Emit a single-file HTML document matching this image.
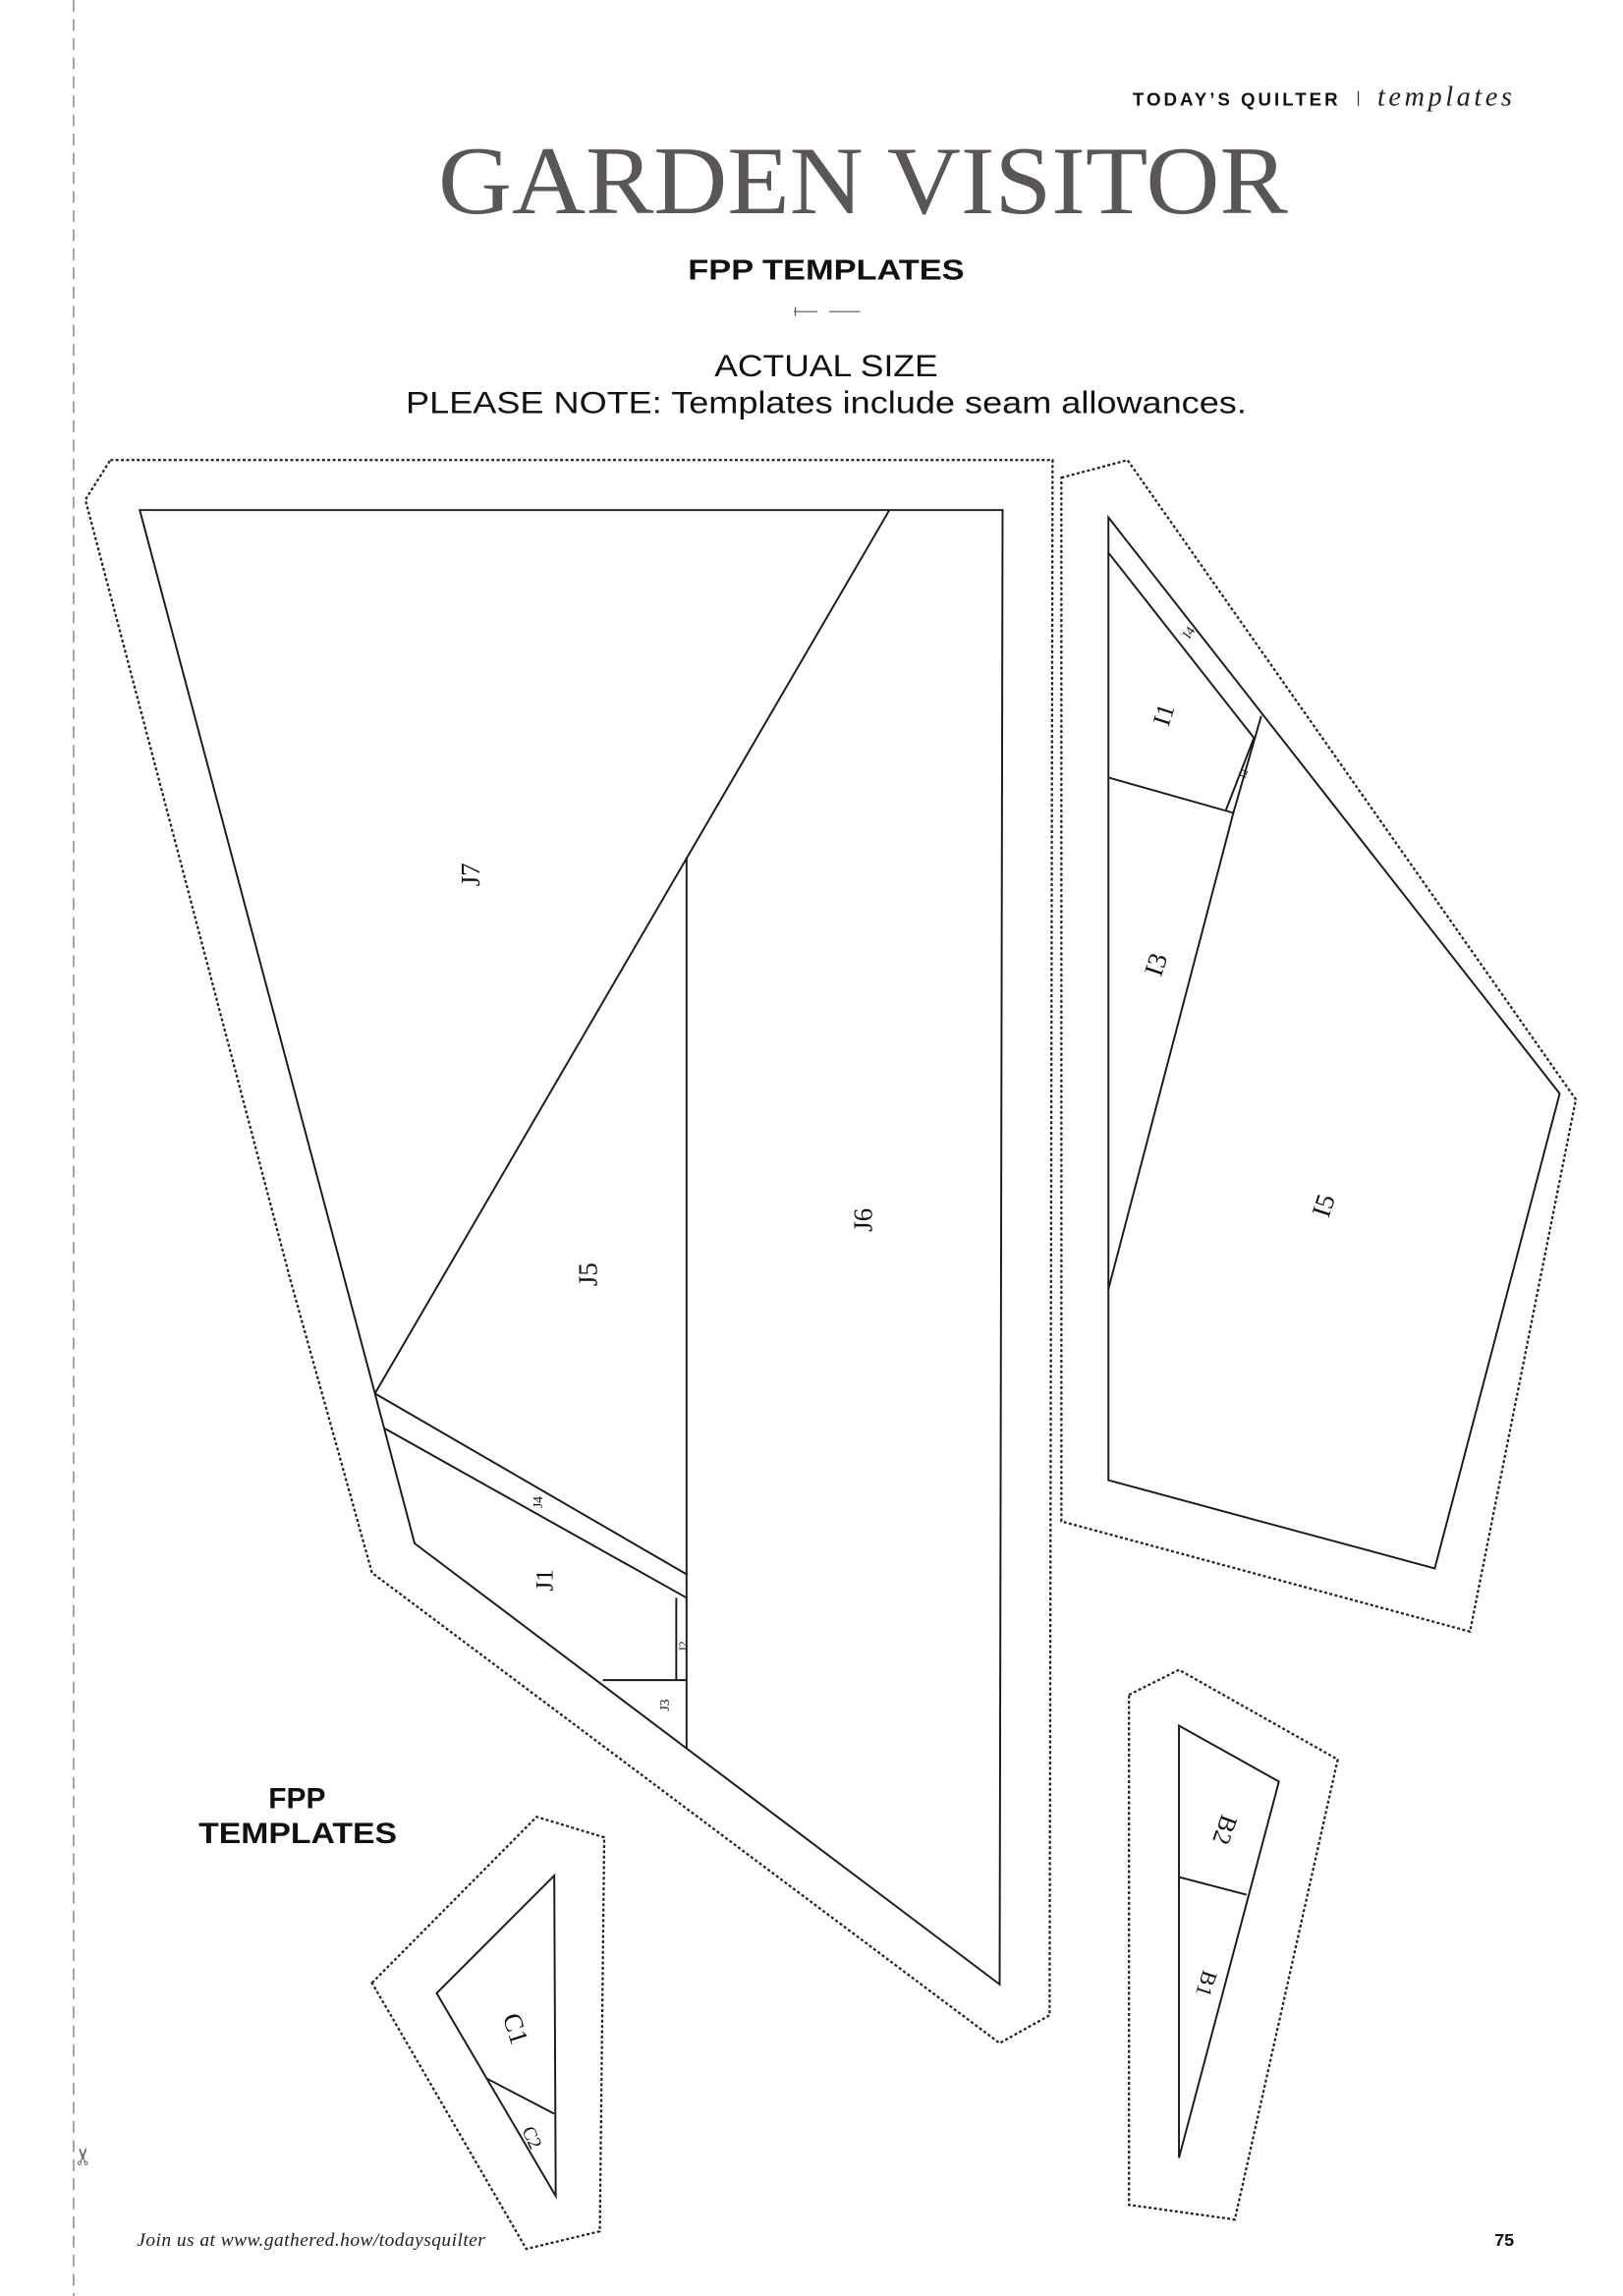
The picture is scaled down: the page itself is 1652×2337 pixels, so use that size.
<!DOCTYPE html>
<html><head><meta charset="utf-8"><style>
html,body{margin:0;padding:0;background:#fff;}
svg{display:block;}
</style></head><body>
<svg width="1652" height="2337" viewBox="0 0 1104 1562" xmlns="http://www.w3.org/2000/svg">
<rect width="1104" height="1562" fill="#fff"/>
<line x1="50" y1="0" x2="50" y2="1562" stroke="#888" stroke-width="1" stroke-dasharray="8 5"/>
<text x="57" y="1472" font-size="16" fill="#666" font-family="DejaVu Sans, sans-serif" text-anchor="middle" transform="rotate(-90 57 1467)">✂</text>

<text x="912" y="72" text-anchor="end" font-family="Liberation Sans, sans-serif" font-weight="bold" font-size="12.5" letter-spacing="2" fill="#111">TODAY’S QUILTER</text>
<line x1="924" y1="62" x2="924" y2="72" stroke="#333" stroke-width="0.8"/>
<text x="937" y="72" font-family="Liberation Serif, serif" font-style="italic" font-size="19" letter-spacing="1.5" fill="#222" textLength="93">templates</text>
<text x="298" y="145" font-family="Liberation Serif, serif" font-size="66" fill="#5a5556" textLength="578" lengthAdjust="spacingAndGlyphs">GARDEN VISITOR</text>
<text x="468" y="190" font-family="Liberation Sans, sans-serif" font-weight="bold" font-size="19" fill="#111" textLength="188" lengthAdjust="spacingAndGlyphs">FPP TEMPLATES</text>
<line x1="540" y1="212" x2="556" y2="212" stroke="#555" stroke-width="0.8"/>
<line x1="564" y1="212" x2="585" y2="212" stroke="#555" stroke-width="0.8"/>
<line x1="541" y1="209" x2="541" y2="215" stroke="#555" stroke-width="0.8"/>
<text x="562" y="256" text-anchor="middle" font-family="Liberation Sans, sans-serif" font-size="21" fill="#111" textLength="152" lengthAdjust="spacingAndGlyphs">ACTUAL SIZE</text>
<text x="276" y="281" font-family="Liberation Sans, sans-serif" font-size="21" fill="#111" textLength="572" lengthAdjust="spacingAndGlyphs">PLEASE NOTE: Templates include seam allowances.</text>

<text x="202" y="1230" text-anchor="middle" font-family="Liberation Sans, sans-serif" font-weight="bold" font-size="20" fill="#111">FPP</text>
<text x="135" y="1254" font-family="Liberation Sans, sans-serif" font-weight="bold" font-size="20" fill="#111" textLength="135" lengthAdjust="spacingAndGlyphs">TEMPLATES</text>

<text x="93" y="1528" font-family="Liberation Serif, serif" font-style="italic" font-size="13" fill="#222" textLength="237">Join us at www.gathered.how/todaysquilter</text>
<text x="1030" y="1528" text-anchor="end" font-family="Liberation Sans, sans-serif" font-weight="bold" font-size="12" fill="#111">75</text>

<g fill="none" stroke="#222" stroke-width="1.5" stroke-dasharray="2 1.6">
  <polygon points="75,313 716,313 714,1371 680,1390 253,1070 197,869 58,340"/>
  <polygon points="722,325 767,313 1072,748 1000,1110 722,1035"/>
  <polygon points="768,1153 802,1136 910,1197 840,1510 768,1500"/>
  <polygon points="253,1349 365,1236 411,1250 408,1518 358,1530"/>
</g>

<g fill="none" stroke="#1a1a1a" stroke-width="1.3" stroke-linejoin="miter">
  <polygon points="95,347 682,347 680,1350 282,1050 255,948"/>
  <line x1="605" y1="347" x2="255" y2="948"/>
  <line x1="467" y1="583" x2="467" y2="1190"/>
  <line x1="255" y1="948" x2="467" y2="1071"/>
  <line x1="262" y1="972" x2="467" y2="1087"/>
  <line x1="460" y1="1087" x2="460" y2="1143"/>
  <line x1="410" y1="1143" x2="467" y2="1143"/>
  <polygon points="754,352 1061,744 976,1067 754,1007"/>
  <line x1="754" y1="376" x2="853" y2="502"/>
  <line x1="858" y1="487" x2="839" y2="553"/>
  <line x1="839" y1="553" x2="754" y2="877"/>
  <line x1="853" y1="502" x2="834" y2="551"/>
  <line x1="754" y1="529" x2="839" y2="553"/>
  <polygon points="802,1174 870,1212 802,1468"/>
  <line x1="802" y1="1277" x2="848" y2="1289"/>
  <polygon points="377,1276 297,1356 378,1494"/>
  <line x1="331" y1="1414" x2="377" y2="1438"/>
</g>

<g font-family="Liberation Serif, serif" fill="#111" text-anchor="middle">
  <text x="0" y="0" font-size="18" transform="translate(326,595) rotate(-90)">J7</text>
  <text x="0" y="0" font-size="18" transform="translate(406,867) rotate(-90)">J5</text>
  <text x="0" y="0" font-size="18" transform="translate(593,830) rotate(-90)">J6</text>
  <text x="0" y="0" font-size="9" transform="translate(369,1022) rotate(-90)">J4</text>
  <text x="0" y="0" font-size="17" transform="translate(376,1075) rotate(-90)">J1</text>
  <text x="0" y="0" font-size="8" transform="translate(467,1120) rotate(-90)">J2</text>
  <text x="0" y="0" font-size="9" transform="translate(455,1160) rotate(-90)">J3</text>
  <text x="0" y="0" font-size="9" transform="translate(811,432) rotate(-55)">I4</text>
  <text x="0" y="0" font-size="17" transform="translate(797,488) rotate(-72)">I1</text>
  <text x="0" y="0" font-size="7" transform="translate(848,527) rotate(-72)">I2</text>
  <text x="0" y="0" font-size="18" transform="translate(792,658) rotate(-72)">I3</text>
  <text x="0" y="0" font-size="18" transform="translate(906,822) rotate(-72)">I5</text>
  <text x="0" y="0" font-size="17" transform="translate(828,1243) rotate(110)">B2</text>
  <text x="0" y="0" font-size="15" transform="translate(816,1348) rotate(108)">B1</text>
  <text x="0" y="0" font-size="18" transform="translate(345,1382) rotate(72)">C1</text>
  <text x="0" y="0" font-size="13" transform="translate(358,1456) rotate(65)">C2</text>
</g>
</svg>
</body></html>
